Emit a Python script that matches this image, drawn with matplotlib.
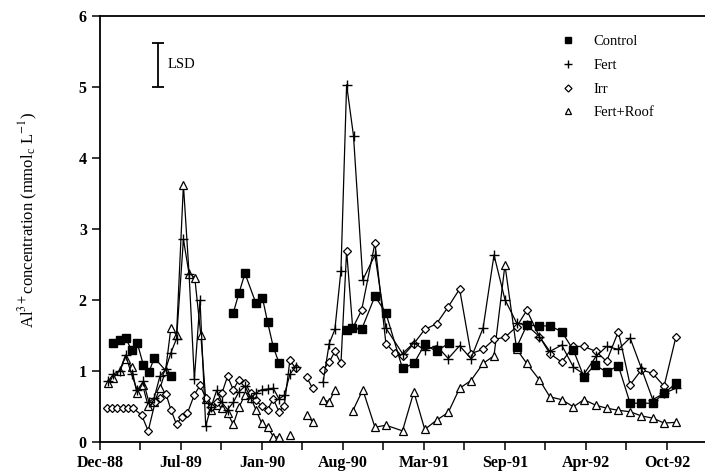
import matplotlib.pyplot as plt
import numpy as np

nan = np.nan

# days since Dec-88 tick
control_days = [33, 49, 63, 78, 92, 107, 121, 134, 175, nan,
                329, 343, 358, 385, 401, 414, 428, 442, nan,
                609, 622, 646, 679, 706, 747, 775, 802, 831, 862, nan,
                1029, 1054, 1085, 1111, 1140, 1169, 1195, 1222, 1251, 1280,
                1309, 1337, 1365, 1393, 1422]
control = [1.39, 1.43, 1.46, 1.29, 1.39, 1.08, 0.98, 1.18, 0.92, nan,
           1.81, 2.09, 2.37, 1.95, 2.03, 1.68, 1.33, 1.11, nan,
           1.57, 1.60, 1.58, 2.05, 1.81, 1.03, 1.10, 1.37, 1.27, 1.39, nan,
           1.33, 1.64, 1.63, 1.63, 1.55, 1.29, 0.91, 1.08, 0.98, 1.07,
           0.54, 0.54, 0.54, 0.68, 0.82]

fert_days = [20, 33, 49, 63, 78, 92, 107, 121, 134, 148, 162, 175, 189, 206, 220,
             233, 247, 261, 274, 288, 301, 315, 329, 343, 358, 372, 385, 399, 414,
             428, 442, 455, 469, 483, nan,
             551, 566, 580, 595, 609, 626, 649, 679, 706, 747, 775, 802, 831, 860,
             888, 916, 946, 973, 1000, 1029, 1054, 1085, 1111, 1140, 1169, 1195,
             1225, 1251, 1280, 1309, 1337, 1365, 1393, 1422]
fert = [0.85, 0.95, 1.00, 1.22, 0.95, 0.72, 0.85, 0.55, 0.62, 0.92, 1.02, 1.25, 1.45, 2.85, 2.36,
        0.88, 1.99, 0.22, 0.48, 0.72, 0.55, 0.45, 0.55, 0.70, 0.78, 0.62, 0.68, 0.73, 0.74,
        0.75, 0.60, 0.65, 0.95, 1.05, nan,
        0.84, 1.38, 1.58, 2.41, 5.03, 4.31, 2.28, 2.63, 1.60, 1.24, 1.39, 1.29, 1.35, 1.17,
        1.35, 1.17, 1.60, 2.63, 2.00, 1.67, 1.64, 1.48, 1.27, 1.36, 1.05, 0.95,
        1.20, 1.34, 1.30, 1.46, 1.03, 0.59, 0.68, 0.75]

irr_days = [17, 30, 43, 56, 69, 82, 103, 119, 136, 148, 163, 175, 189, 202, 216,
            233, 247, 261, 274, 288, 301, 315, 329, 343, 358, 372, 385, 399, 414,
            428, 442, 455, 469, 483, nan, 510, 525, nan,
            551, 566, 580, 595, 609, 624, 646, 679, 706, 728, 747, 775, 802, 831,
            860, 888, 916, 946, 973, 1000, 1029, 1054, 1085, 1111, 1140, 1169,
            1195, 1225, 1251, 1280, 1309, 1337, 1365, 1393, 1422]
irr = [0.47, 0.47, 0.47, 0.47, 0.47, 0.47, 0.37, 0.15, 0.55, 0.61, 0.67, 0.45, 0.24, 0.35, 0.40,
       0.66, 0.79, 0.62, 0.48, 0.55, 0.68, 0.92, 0.73, 0.87, 0.83, 0.68, 0.58, 0.50, 0.45,
       0.60, 0.42, 0.50, 1.15, 1.03, nan, 0.91, 0.75, nan,
       1.01, 1.12, 1.27, 1.10, 2.69, 1.60, 1.85, 2.80, 1.38, 1.25, 1.20, 1.38, 1.58, 1.66,
       1.90, 2.15, 1.24, 1.30, 1.44, 1.47, 1.62, 1.85, 1.48, 1.24, 1.12, 1.34,
       1.34, 1.27, 1.13, 1.55, 0.80, 1.01, 0.96, 0.78, 1.47]

roof_days = [20, 33, 49, 63, 78, 91, 105, 119, 134, 148, 162, 175, 189, 206, 220,
             234, 249, 261, 274, 288, 301, 315, 329, 343, 358, 372, 385, 399, 414,
             428, 442, nan, 469, nan, 510, 525, nan, 551, 566, 580, nan,
             624, 649, 679, 706, 747, 775, 802, 831, 860, 888, 916, 946, 973,
             1000, 1029, 1054, 1085, 1111, 1140, 1169, 1195, 1225, 1251, 1280,
             1309, 1337, 1365, 1393, 1422]
roof = [0.83, 0.90, 1.00, 1.17, 1.05, 0.68, 0.80, 0.50, 0.55, 0.75, 1.00, 1.60, 1.50, 3.62, 2.36,
        2.31, 1.50, 0.60, 0.45, 0.52, 0.47, 0.40, 0.24, 0.48, 0.66, 0.62, 0.45, 0.26, 0.20,
        0.07, 0.06, nan, 0.09, nan, 0.37, 0.28, nan, 0.59, 0.56, 0.73, nan,
        0.43, 0.73, 0.20, 0.23, 0.15, 0.70, 0.17, 0.30, 0.41, 0.75, 0.86, 1.10, 1.21,
        2.49, 1.30, 1.10, 0.87, 0.63, 0.59, 0.49, 0.59, 0.51, 0.47, 0.44,
        0.42, 0.36, 0.33, 0.26, 0.27]

tick_days = list(range(0, 1500, 100))
tick_labels = ["Dec-88", "", "Jul-89", "", "Jan-90", "", "Aug-90", "", "Mar-91", "",
               "Sep-91", "", "Apr-92", "", "Oct-92"]
lsd = 0.62

plt.rcParams["font.family"] = "Liberation Serif"
plt.rcParams["mathtext.fontset"] = "stix"

fig = plt.figure(figsize=(7.05, 4.72), dpi=100)
ax = fig.add_axes([100 / 705, 30.5 / 472, 605 / 705, 425.5 / 472])

lw = 0.9
ax.plot(roof_days, roof, "^-", color="black", mfc="white", ms=5.5, mew=0.9, lw=lw, label="Fert+Roof")
ax.plot(irr_days, irr, "D-", color="black", mfc="white", ms=4.2, mew=0.9, lw=lw, label="Irr")
ax.plot(fert_days, fert, "+-", color="black", ms=7, mew=1.0, lw=lw, label="Fert")
ax.plot(control_days, control, "s-", color="black", ms=5.8, lw=lw, label="Control")

# LSD bar
ax.errorbar([143], [5.0 + lsd / 2], yerr=[lsd / 2], color="black", capsize=4, lw=1.3, capthick=1.3)
ax.text(167, 5.0 + lsd / 2, "LSD", fontsize=10.5, va="center", ha="left")

ax.set_xlim(0, 1494)
ax.set_ylim(0, 6)
ax.set_xticks(tick_days)
ax.set_xticklabels(tick_labels, fontsize=11.5, fontweight="bold")
ax.set_yticks(range(0, 7))
ax.set_yticklabels([str(v) for v in range(0, 7)], fontsize=11.5, fontweight="bold")
ax.tick_params(direction="out", length=6, width=1.1)
for s in ["left", "bottom", "top"]:
    ax.spines[s].set_linewidth(1.3)
ax.spines["right"].set_visible(False)

ax.set_ylabel("Al$^{3+}$concentration (mmol$_\\mathregular{c}$ L$^{-1}$)", fontsize=12)
ax.yaxis.set_label_coords(-0.1, 0.52)

handles, labels = ax.get_legend_handles_labels()
order = [3, 2, 1, 0]
leg_handles = []
for i in order:
    h = handles[i]
    leg_handles.append(plt.Line2D([], [], ls="none", marker=h.get_marker(), color="black",
                                  mfc=h.get_markerfacecolor(), ms=h.get_markersize() * 0.85,
                                  mew=h.get_markeredgewidth()))
ax.legend(leg_handles, [labels[i] for i in order], loc="upper left",
          bbox_to_anchor=(0.762, 0.955), frameon=False, fontsize=10.5,
          handlelength=1.0, handletextpad=1.25, labelspacing=0.72,
          borderpad=0, borderaxespad=0)

fig.savefig("out.png", dpi=100)
